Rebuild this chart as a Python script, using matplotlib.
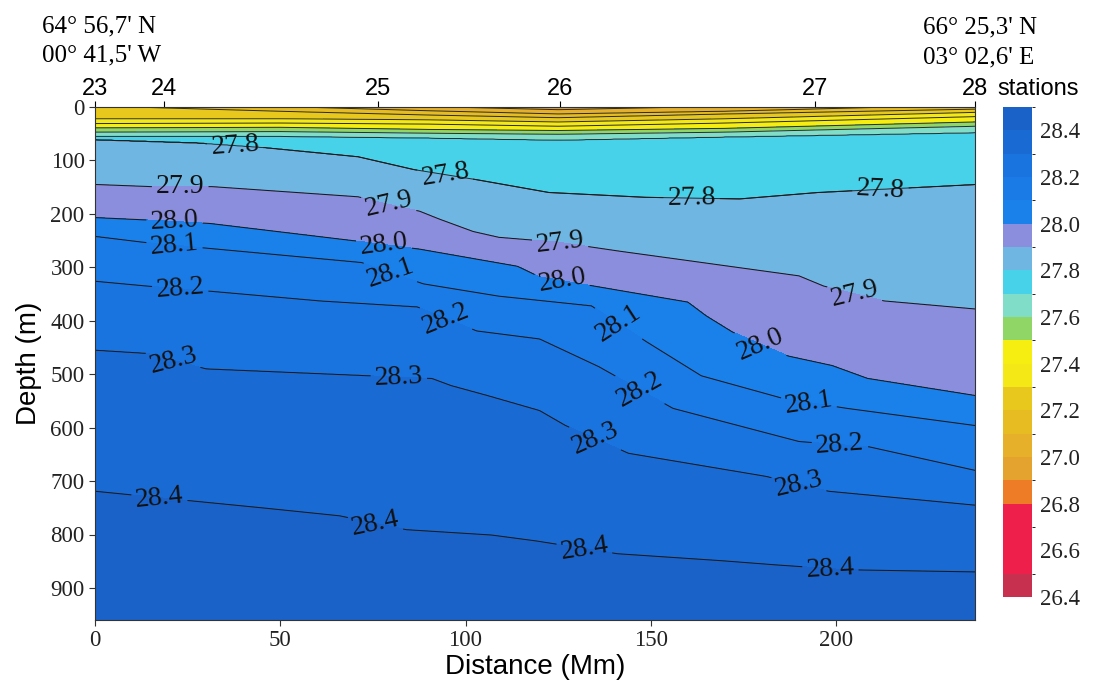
import numpy as np
import matplotlib.pyplot as plt
from matplotlib.colors import ListedColormap, BoundaryNorm

plt.rcParams['font.family'] = ['Liberation Serif', 'DejaVu Serif']
SANS = ['Liberation Sans', 'DejaVu Sans']

# stations along the section (distance, label)
station_dist = [0, 18.7, 76.3, 125.5, 194.4, 237.5]
station_names = ['23', '24', '25', '26', '27', '28']

# isopycnal depths (m) vs distance, read off the section
# upper layer levels only exist where they sit below the surface
iso_270_x = [95, 125, 160]
iso_270_z = [0, 5, 0]
iso_271_x = [55, 90, 125, 170, 215]
iso_271_z = [0, 7, 13, 8, 0]
iso_272_x = [10, 50, 90, 125, 170, 237.5]
iso_272_z = [0, 8, 15, 20, 13, 4]
upper_x = [0, 50, 90, 125, 170, 237.5]
iso_273_z = [22, 22, 24, 28, 22, 10]
iso_274_z = [31, 30, 32, 36, 30, 18]
iso_275_z = [39, 38, 42, 44, 40, 28]
iso_276_z = [47, 46, 49, 51, 47, 36]
iso_277_z = [55, 55, 58, 62, 56, 48]

iso_278_x = [0, 27.4, 46, 71, 86, 103, 122.5, 148.5, 174, 195, 237.5]
iso_278_z = [61, 67, 76, 93, 117, 136, 160, 169, 172, 160, 145]
iso_279_x = [0, 15, 31.5, 71, 79, 87.6, 93, 102, 109, 125, 141.7, 190, 196.6, 213, 237.5]
iso_279_z = [145, 149, 149, 168, 182, 195, 210, 233, 244, 253, 270, 316, 335, 363, 378]
iso_280_x = [0, 15.5, 31, 70.6, 87.6, 114, 120, 134.5, 160, 165, 172, 187, 199, 208.5, 237.5]
iso_280_z = [207, 212, 218, 251, 266, 298, 318, 335, 365, 391, 421, 466, 484, 508, 540]
iso_281_x = [0, 13, 30, 72, 88.6, 109, 134, 149, 163.6, 186, 203, 237.5]
iso_281_z = [242, 253, 264, 291, 331, 354, 372, 440, 503, 546, 564, 596]
iso_282_x = [0, 14, 30, 61, 87, 103, 120, 136, 156, 190, 209, 237.5]
iso_282_z = [326, 335, 344, 363, 374, 419, 434, 486, 564, 626, 636, 680]
iso_283_x = [0, 14, 30, 71, 91, 96, 106, 120, 127, 144, 181, 198, 237.5]
iso_283_z = [455, 461, 490, 502, 508, 521, 540, 568, 596, 648, 691, 719, 745]
iso_284_x = [0, 26, 45, 66, 84, 107, 119, 141, 169, 184, 203, 237.5]
iso_284_z = [719, 737, 750, 765, 791, 801, 812, 836, 849, 857, 866, 870]

bottom_depth = 960
bottom_rho = 28.47

# label positions (distance, depth)
label_pos = [(37.7, 76), (94.5, 127), (161, 173), (212, 155),
             (23, 149), (79, 190), (125.5, 256), (205, 350),
             (21.5, 209), (78, 257), (126, 326), (179.6, 444),
             (21.5, 254), (80, 304), (140, 420), (192.6, 556),
             (23, 340), (94.5, 400), (147, 530), (201, 636),
             (21.5, 462), (82, 505), (135, 620), (190, 705),
             (17.4, 730), (75.5, 786), (132, 830), (198.5, 861)]

# colour of each 0.1 band from 26.4 to 28.5
band_colors = ['#c8304f', '#ee1f4b', '#ee1f4b', '#ee1f4b', '#ee7b25',
               '#e4a22e', '#e6b02a', '#e6bc22', '#e8c81c', '#f4e816',
               '#f6ee10', '#8fd666', '#80dec8', '#48d2ea', '#6fb6e2',
               '#8a8edc', '#1a80ea', '#1a7ae6', '#1a74e0', '#1a6ad4',
               '#1a62c8']

levels = np.round(np.arange(26.4, 28.51, 0.1), 2)

isos = [
    (27.0, iso_270_x, iso_270_z), (27.1, iso_271_x, iso_271_z),
    (27.2, iso_272_x, iso_272_z), (27.3, upper_x, iso_273_z),
    (27.4, upper_x, iso_274_z), (27.5, upper_x, iso_275_z),
    (27.6, upper_x, iso_276_z), (27.7, upper_x, iso_277_z),
    (27.8, iso_278_x, iso_278_z), (27.9, iso_279_x, iso_279_z),
    (28.0, iso_280_x, iso_280_z), (28.1, iso_281_x, iso_281_z),
    (28.2, iso_282_x, iso_282_z), (28.3, iso_283_x, iso_283_z),
    (28.4, iso_284_x, iso_284_z),
]

# build the density field column by column from the isopycnal depths
xg = np.linspace(0, 237.5, 600)
zg = np.linspace(0, bottom_depth, 961)
rho = np.zeros((len(zg), len(xg)))
for j, x in enumerate(xg):
    zs, vs = [], []
    for lev, ix, iz in isos:
        d = np.interp(x, ix, iz, left=np.nan, right=np.nan)
        if np.isnan(d) or d <= 0:
            continue
        if zs and d <= zs[-1]:
            continue
        zs.append(d)
        vs.append(lev)
    thick = zs[1] - zs[0]
    surf = vs[0] - 0.1 * min(0.95, zs[0] / thick)
    zs = [0] + zs + [bottom_depth]
    vs = [surf] + vs + [bottom_rho]
    rho[:, j] = np.interp(zg, zs, vs)

fig = plt.figure(figsize=(11.09, 6.93), dpi=100)
W, H = 1109, 693
ax = fig.add_axes([95 / W, 1 - 620 / H, 880 / W, 513 / H])

cmap = ListedColormap(band_colors)
norm = BoundaryNorm(levels, cmap.N)
cf = ax.contourf(xg, zg, rho, levels=levels, cmap=cmap, norm=norm)

plain = ax.contour(xg, zg, rho, levels=np.round(np.arange(26.5, 27.8, 0.1), 2),
                   colors='#2a2a2a', linewidths=0.7)
labeled = ax.contour(xg, zg, rho, levels=np.round(np.arange(27.8, 28.41, 0.1), 2),
                     colors='#1a1a1a', linewidths=0.75)
ax.clabel(labeled, manual=label_pos, fmt='%.1f', fontsize=20,
          inline=True, inline_spacing=4, colors='#111111')

ax.set_xlim(0, 237.5)
ax.set_ylim(bottom_depth, 0)
ax.set_yticks(range(0, 901, 100))
ax.set_xticks([0, 50, 100, 150, 200])
ax.tick_params(labelsize=16.5, length=4, width=0.8, colors='#333333',
               labelcolor='#222222')
for s in ax.spines.values():
    s.set_linewidth(0.8)
    s.set_color('#333333')

top = ax.secondary_xaxis('top')
top.set_xticks(station_dist, labels=station_names)
top.tick_params(labelsize=17, length=4, width=0.8, pad=1)
for t in top.get_xticklabels():
    t.set_fontfamily(SANS)
top.spines['top'].set_visible(False)

ax.set_xlabel('Distance (Mm)', fontfamily=SANS, fontsize=20, labelpad=2)
ax.set_ylabel('Depth (m)', fontfamily=SANS, fontsize=20, labelpad=6)

fig.text(997 / W, 1 - 95 / H, 'stations', fontfamily=SANS, fontsize=17,
         va='baseline')
fig.text(42 / W, 1 - 32 / H, "64° 56,7' N", fontsize=18, va='baseline')
fig.text(42 / W, 1 - 61 / H, "00° 41,5' W", fontsize=18, va='baseline')
fig.text(923 / W, 1 - 33 / H, "66° 25,3' N", fontsize=18, va='baseline')
fig.text(923 / W, 1 - 63 / H, "03° 02,6' E", fontsize=18, va='baseline')

cax = fig.add_axes([1003 / W, 1 - 597 / H, 29 / W, 490 / H])
cb = fig.colorbar(cf, cax=cax, ticks=np.round(np.arange(26.4, 28.41, 0.2), 1))
cb.ax.set_yticklabels([f'{v:.1f}' for v in np.arange(26.4, 28.41, 0.2)])
cb.outline.set_visible(False)
cax.tick_params(length=0, labelsize=16.5, pad=6, labelcolor='#222222')

fig.savefig('out.png', dpi=100)
